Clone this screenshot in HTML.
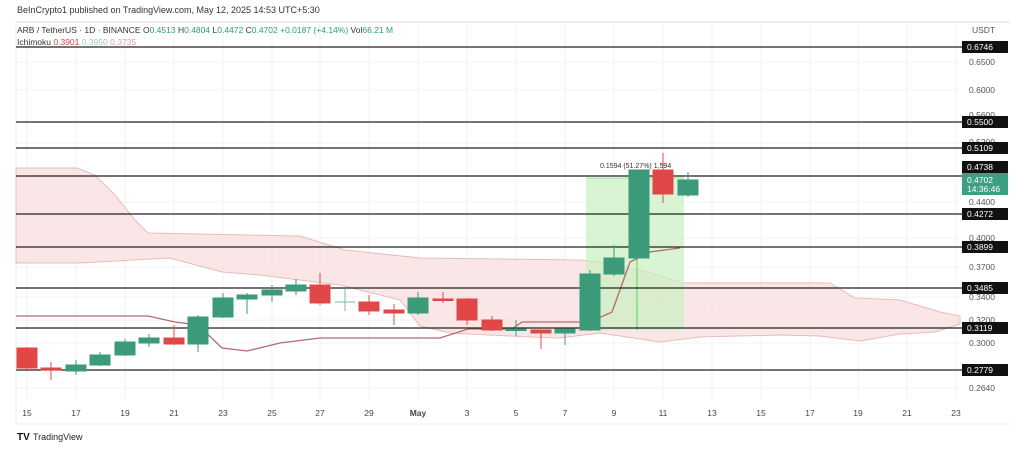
<!DOCTYPE html>
<html><head><meta charset="utf-8"><style>
html,body{margin:0;padding:0;background:#fff;width:1024px;height:450px;overflow:hidden}
svg{display:block;font-family:"Liberation Sans",sans-serif}
</style></head><body>
<svg width="1024" height="450" viewBox="0 0 1024 450" xmlns="http://www.w3.org/2000/svg">
<rect width="1024" height="450" fill="#fff"/>
<text x="17" y="13" font-size="9" fill="#333">BeInCrypto1 published on TradingView.com, May 12, 2025 14:53 UTC+5:30</text>
<line x1="16" y1="22" x2="1010" y2="22" stroke="#ddd"/>
<line x1="16" y1="424" x2="1010" y2="424" stroke="#eee"/>
<line x1="16" y1="22" x2="16" y2="424" stroke="#eee"/>
<!-- vertical grid -->
<g stroke="#f1f1f1">
<line x1="27" y1="22" x2="27" y2="400"/><line x1="76" y1="22" x2="76" y2="400"/><line x1="125" y1="22" x2="125" y2="400"/><line x1="174" y1="22" x2="174" y2="400"/><line x1="223" y1="22" x2="223" y2="400"/><line x1="272" y1="22" x2="272" y2="400"/><line x1="320" y1="22" x2="320" y2="400"/><line x1="369" y1="22" x2="369" y2="400"/><line x1="418" y1="22" x2="418" y2="400"/><line x1="467" y1="22" x2="467" y2="400"/><line x1="516" y1="22" x2="516" y2="400"/><line x1="565" y1="22" x2="565" y2="400"/><line x1="614" y1="22" x2="614" y2="400"/><line x1="663" y1="22" x2="663" y2="400"/><line x1="712" y1="22" x2="712" y2="400"/><line x1="761" y1="22" x2="761" y2="400"/><line x1="810" y1="22" x2="810" y2="400"/><line x1="858" y1="22" x2="858" y2="400"/><line x1="907" y1="22" x2="907" y2="400"/><line x1="956" y1="22" x2="956" y2="400"/>
</g>
<g stroke="#f3f3f3">
<line x1="16" y1="62" x2="960" y2="62"/><line x1="16" y1="90" x2="960" y2="90"/><line x1="16" y1="143" x2="960" y2="143"/><line x1="16" y1="202" x2="960" y2="202"/><line x1="16" y1="238" x2="960" y2="238"/><line x1="16" y1="267" x2="960" y2="267"/><line x1="16" y1="297" x2="960" y2="297"/><line x1="16" y1="320" x2="960" y2="320"/><line x1="16" y1="343" x2="960" y2="343"/><line x1="16" y1="388" x2="960" y2="388"/>
</g>
<!-- cloud -->
<path d="M16,168 L77,168 L95,175 L115,195 L135,220 L148,233 L300,236 L345,250 L420,258 L580,260 L600,262 L640,270 L683,283 L830,283 L855,298 L900,300 L940,312 L960,316 L960,324 L935,332 L900,334 L860,341 L820,336 L780,335 L700,337 L660,342 L600,333 L560,338 L530,337 L450,333 L420,326 L400,300 L340,285 L300,280 L260,275 L222,272 L170,258 L80,263 L16,263 Z" fill="#f8dcdc" fill-opacity="0.7" stroke="#e6bcbc" stroke-width="1"/>
<!-- green box -->
<rect x="586" y="178" width="98" height="152" fill="#c8f0c0" fill-opacity="0.7"/>
<line x1="586" y1="178" x2="684" y2="178" stroke="#9be38c"/>
<line x1="637" y1="178" x2="637" y2="330" stroke="#5ad15a"/>
<!-- lines -->
<polyline points="16,316 148,316 175,322 198,325 222,348 247,351 280,343 320,338 440,338 468,329 512,329 522,322 590,322 612,312 630,262 650,252 680,248" fill="none" stroke="#b56b6b" stroke-width="1.3"/>
<!-- levels -->
<g stroke="#222" stroke-width="1.3">
<line x1="16" y1="47" x2="962" y2="47"/><line x1="16" y1="122" x2="962" y2="122"/><line x1="16" y1="148" x2="962" y2="148"/><line x1="16" y1="176" x2="962" y2="176"/><line x1="16" y1="214" x2="962" y2="214"/><line x1="16" y1="247" x2="962" y2="247"/><line x1="16" y1="288" x2="962" y2="288"/><line x1="16" y1="328" x2="962" y2="328"/><line x1="16" y1="370" x2="962" y2="370"/>
</g>
<!-- candles -->
<g stroke-width="1">
<g fill="#e04848" stroke="#e04848">
<line x1="27" y1="347" x2="27" y2="371"/><rect x="17" y="348" width="20" height="20"/>
<line x1="51" y1="362" x2="51" y2="380"/><rect x="41" y="368" width="20" height="2"/>
<line x1="174" y1="325" x2="174" y2="345"/><rect x="164" y="338" width="20" height="6"/>
<line x1="320" y1="273" x2="320" y2="305"/><rect x="310" y="285" width="20" height="18"/>
<line x1="369" y1="295" x2="369" y2="315"/><rect x="359" y="302" width="20" height="9"/>
<line x1="394" y1="304" x2="394" y2="325"/><rect x="384" y="310" width="20" height="3"/>
<line x1="443" y1="292" x2="443" y2="303"/><rect x="433" y="299" width="20" height="1.5"/>
<line x1="467" y1="298" x2="467" y2="325"/><rect x="457" y="299" width="20" height="21"/>
<line x1="492" y1="316" x2="492" y2="331"/><rect x="482" y="320" width="20" height="10"/>
<line x1="541" y1="330" x2="541" y2="349"/><rect x="531" y="330" width="20" height="3"/>
<line x1="663" y1="153" x2="663" y2="203"/><rect x="653" y="170" width="20" height="24"/>
</g>
<g fill="#3a9a7a" stroke="#3a9a7a">
<line x1="76" y1="360" x2="76" y2="375"/><rect x="66" y="365" width="20" height="6"/>
<line x1="100" y1="352" x2="100" y2="366"/><rect x="90" y="355" width="20" height="10"/>
<line x1="125" y1="339" x2="125" y2="356"/><rect x="115" y="342" width="20" height="13"/>
<line x1="149" y1="334" x2="149" y2="347"/><rect x="139" y="338" width="20" height="5"/>
<line x1="198" y1="315" x2="198" y2="352"/><rect x="188" y="317" width="20" height="27"/>
<line x1="223" y1="293" x2="223" y2="318"/><rect x="213" y="298" width="20" height="19"/>
<line x1="247" y1="293" x2="247" y2="314"/><rect x="237" y="295" width="20" height="4"/>
<line x1="272" y1="285" x2="272" y2="302"/><rect x="262" y="290" width="20" height="5"/>
<line x1="296" y1="279" x2="296" y2="295"/><rect x="286" y="285" width="20" height="6"/>
<line x1="345" y1="289" x2="345" y2="311" stroke="#7cb8a8"/><line x1="335" y1="302" x2="355" y2="302" stroke="#7cb8a8"/>
<line x1="418" y1="292" x2="418" y2="315"/><rect x="408" y="298" width="20" height="15"/>
<line x1="516" y1="320" x2="516" y2="336"/><rect x="506" y="329" width="20" height="1.5"/>
<line x1="565" y1="329" x2="565" y2="345"/><rect x="555" y="329" width="20" height="4"/>
<line x1="590" y1="270" x2="590" y2="331"/><rect x="580" y="274" width="20" height="56"/>
<line x1="614" y1="245" x2="614" y2="276"/><rect x="604" y="258" width="20" height="16"/>
<rect x="629" y="170" width="20" height="88"/>
<line x1="688" y1="172" x2="688" y2="197"/><rect x="678" y="180" width="20" height="15"/>
</g>
</g>
<text x="600" y="168" font-size="7" fill="#333">0.1594 (51.27%) 1,594</text>
<!-- header text -->
<text x="17" y="33" font-size="8.5" fill="#333">ARB / TetherUS · 1D · BINANCE <tspan fill="#333">O</tspan><tspan fill="#2a9d7a">0.4513</tspan> <tspan fill="#333">H</tspan><tspan fill="#2a9d7a">0.4804</tspan> <tspan fill="#333">L</tspan><tspan fill="#2a9d7a">0.4472</tspan> <tspan fill="#333">C</tspan><tspan fill="#2a9d7a">0.4702</tspan> <tspan fill="#2a9d7a">+0.0187 (+4.14%)</tspan> <tspan fill="#333">Vol</tspan><tspan fill="#2a9d7a">66.21 M</tspan></text>
<text x="17" y="45" font-size="8.5" fill="#333">Ichimoku <tspan fill="#d04848">0.3901</tspan> <tspan fill="#9bd0a8">0.3950</tspan> <tspan fill="#e0a0a0">0.3735</tspan></text>
<!-- axis -->
<g font-size="8.5" fill="#555">
<text x="972" y="33">USDT</text>
<text x="969" y="65">0.6500</text><text x="969" y="93">0.6000</text><text x="969" y="118">0.5600</text><text x="969" y="145">0.5200</text>
<text x="969" y="205">0.4400</text><text x="969" y="241">0.4000</text><text x="969" y="270">0.3700</text><text x="969" y="300">0.3400</text><text x="969" y="323">0.3200</text><text x="969" y="346">0.3000</text><text x="969" y="391">0.2640</text>
</g>
<g font-size="8.5" fill="#fff">
<rect x="962" y="41" width="46" height="12" fill="#111"/><text x="967" y="50">0.6746</text>
<rect x="962" y="116" width="46" height="12" fill="#111"/><text x="967" y="125">0.5500</text>
<rect x="962" y="142" width="46" height="12" fill="#111"/><text x="967" y="151">0.5109</text>
<rect x="962" y="161" width="46" height="12" fill="#111"/><text x="967" y="170">0.4738</text>
<rect x="962" y="173" width="46" height="22" fill="#3d9e82"/><text x="967" y="183">0.4702</text><text x="967" y="192">14:36:46</text>
<rect x="962" y="208" width="46" height="12" fill="#111"/><text x="967" y="217">0.4272</text>
<rect x="962" y="241" width="46" height="12" fill="#111"/><text x="967" y="250">0.3899</text>
<rect x="962" y="282" width="46" height="12" fill="#111"/><text x="967" y="291">0.3485</text>
<rect x="962" y="322" width="46" height="12" fill="#111"/><text x="967" y="331">0.3119</text>
<rect x="962" y="364" width="46" height="12" fill="#111"/><text x="967" y="373">0.2779</text>
</g>
<g font-size="8.5" fill="#444" text-anchor="middle">
<text x="27" y="416">15</text><text x="76" y="416">17</text><text x="125" y="416">19</text><text x="174" y="416">21</text><text x="223" y="416">23</text><text x="272" y="416">25</text><text x="320" y="416">27</text><text x="369" y="416">29</text><text x="418" y="416" font-weight="bold">May</text><text x="467" y="416">3</text><text x="516" y="416">5</text><text x="565" y="416">7</text><text x="614" y="416">9</text><text x="663" y="416">11</text><text x="712" y="416">13</text><text x="761" y="416">15</text><text x="810" y="416">17</text><text x="858" y="416">19</text><text x="907" y="416">21</text><text x="956" y="416">23</text>
</g>
<text x="17" y="440" font-size="10" font-weight="bold" fill="#111">TV</text>
<text x="33" y="440" font-size="9" fill="#222">TradingView</text>
</svg>
</body></html>
